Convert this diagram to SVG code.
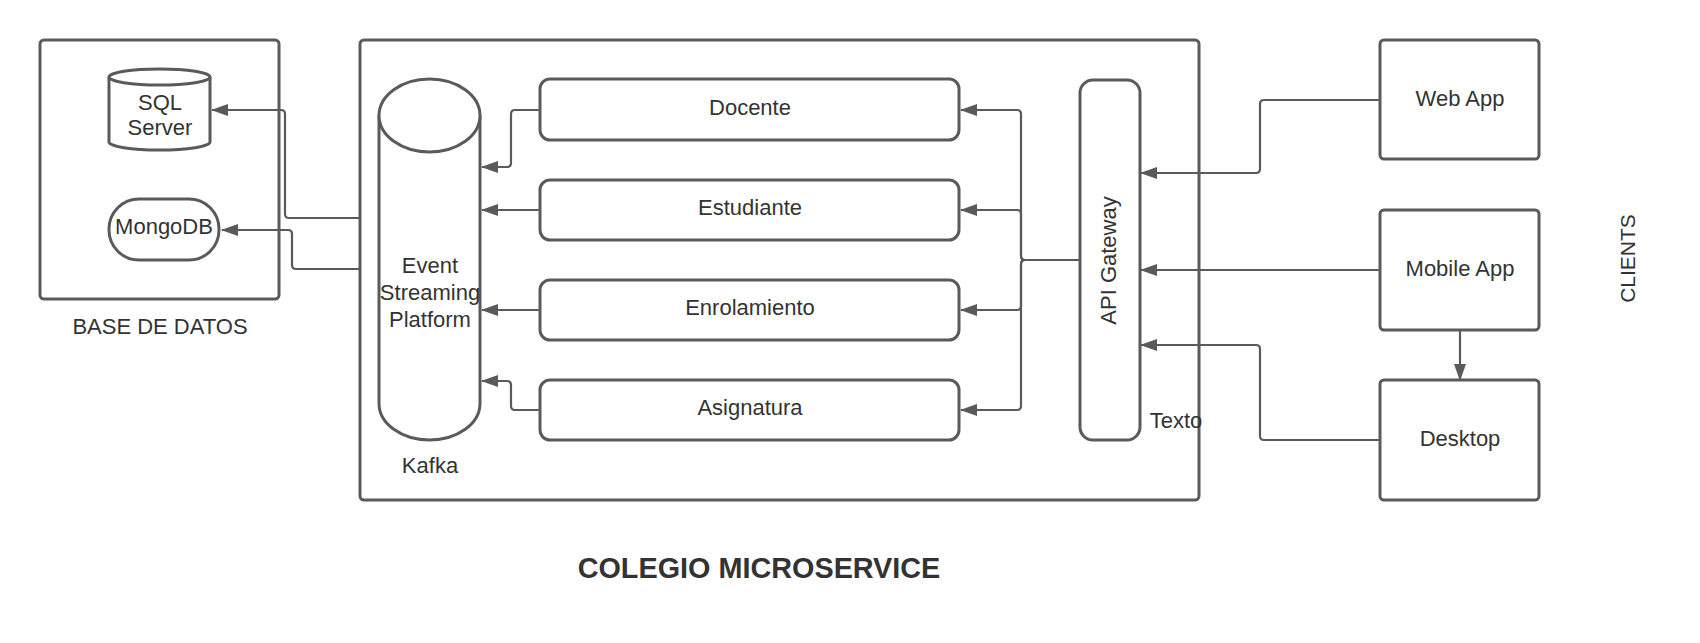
<svg xmlns="http://www.w3.org/2000/svg" width="1700" height="643" viewBox="0 0 1700 643">
<defs>
<marker id="arr" markerUnits="userSpaceOnUse" markerWidth="17" markerHeight="12" refX="16" refY="6" orient="auto">
<path d="M0,0 L17,6 L0,12 z" fill="#5a5a5a"/>
</marker>
<style>
.box{fill:#fff;stroke:#5a5a5a;stroke-width:3}
.ln{fill:none;stroke:#5a5a5a;stroke-width:2.2;marker-end:url(#arr)}
.t{font-family:"Liberation Sans",Arial,sans-serif;font-size:22px;fill:#333;text-anchor:middle}
.ttl{font-family:"Liberation Sans",Arial,sans-serif;font-size:28.8px;font-weight:bold;fill:#333;text-anchor:middle}
</style>
</defs>
<rect width="1700" height="643" fill="#fff"/>

<g id="base-de-datos">
<rect class="box" x="40" y="40" width="239" height="259" rx="4"/>
<text class="t" x="160" y="334">BASE DE DATOS</text>
</g>

<g id="colegio-microservice">
<rect class="box" x="360" y="40" width="839" height="460" rx="4"/>
<text class="ttl" x="759" y="578">COLEGIO MICROSERVICE</text>
</g>

<g id="sql-server">
<path class="box" d="M109,77 V142 A50.5,8 0 0 0 210,142 V77"/>
<ellipse class="box" cx="159.5" cy="77" rx="50.5" ry="8"/>
<text class="t" x="160" y="110">SQL</text>
<text class="t" x="160" y="135">Server</text>
</g>

<g id="mongodb">
<rect class="box" x="109" y="199" width="110" height="61" rx="30"/>
<text class="t" x="164" y="234">MongoDB</text>
</g>

<g id="kafka">
<path class="box" d="M379,115.5 V403.5 A50.5,36.5 0 0 0 480,403.5 V115.5"/>
<ellipse class="box" cx="429.5" cy="115.5" rx="50.5" ry="36.5"/>
<text class="t" x="430" y="273">Event</text>
<text class="t" x="430" y="300">Streaming</text>
<text class="t" x="430" y="327">Platform</text>
<text class="t" x="430" y="473">Kafka</text>
</g>

<g id="docente">
<rect class="box" x="540" y="79" width="419" height="61" rx="10"/>
<text class="t" x="750" y="115">Docente</text>
</g>
<g id="estudiante">
<rect class="box" x="540" y="180" width="419" height="60" rx="10"/>
<text class="t" x="750" y="215">Estudiante</text>
</g>
<g id="enrolamiento">
<rect class="box" x="540" y="280" width="419" height="60" rx="10"/>
<text class="t" x="750" y="315">Enrolamiento</text>
</g>
<g id="asignatura">
<rect class="box" x="540" y="380" width="419" height="60" rx="10"/>
<text class="t" x="750" y="415">Asignatura</text>
</g>

<g id="api-gateway">
<rect class="box" x="1080" y="80" width="60" height="360" rx="13"/>
<text class="t" transform="translate(1115.5,260.5) rotate(-90)" x="0" y="0">API Gateway</text>
<text class="t" x="1176" y="428">Texto</text>
</g>

<g id="web-app">
<rect class="box" x="1380" y="40" width="159" height="119" rx="4"/>
<text class="t" x="1460" y="106">Web App</text>
</g>
<g id="mobile-app">
<rect class="box" x="1380" y="210" width="159" height="120" rx="4"/>
<text class="t" x="1460" y="276">Mobile App</text>
</g>
<g id="desktop">
<rect class="box" x="1380" y="380" width="159" height="120" rx="4"/>
<text class="t" x="1460" y="446">Desktop</text>
</g>

<g id="clients-label">
<text class="t" style="font-size:21px" transform="translate(1635,258.5) rotate(-90)" x="0" y="0">CLIENTS</text>
</g>

<g id="connectors">
<path class="ln" d="M360,218 H289 Q285,218 285,214 V114 Q285,110 281,110 H212"/>
<path class="ln" d="M360,269 H296 Q292,269 292,265 V234 Q292,230 288,230 H222"/>
<path class="ln" d="M540,110 H515 Q511,110 511,114 V163 Q511,167 507,167 H482"/>
<path class="ln" d="M540,210 H482"/>
<path class="ln" d="M540,310 H482"/>
<path class="ln" d="M540,410 H515 Q511,410 511,406 V385 Q511,381 507,381 H482"/>
<path class="ln" d="M1080,260 H1025 Q1021,260 1021,256 V114 Q1021,110 1017,110 H961"/>
<path class="ln" d="M1080,260 H1025 Q1021,260 1021,256 V214 Q1021,210 1017,210 H961"/>
<path class="ln" d="M1080,260 H1025 Q1021,260 1021,264 V306 Q1021,310 1017,310 H961"/>
<path class="ln" d="M1080,260 H1025 Q1021,260 1021,264 V406 Q1021,410 1017,410 H961"/>
<path class="ln" d="M1380,100 H1264 Q1260,100 1260,104 V169 Q1260,173 1256,173 H1141"/>
<path class="ln" d="M1380,270 H1141"/>
<path class="ln" d="M1380,440 H1264 Q1260,440 1260,436 V349 Q1260,345 1256,345 H1141"/>
<path class="ln" d="M1460,330 V380"/>
</g>
</svg>
